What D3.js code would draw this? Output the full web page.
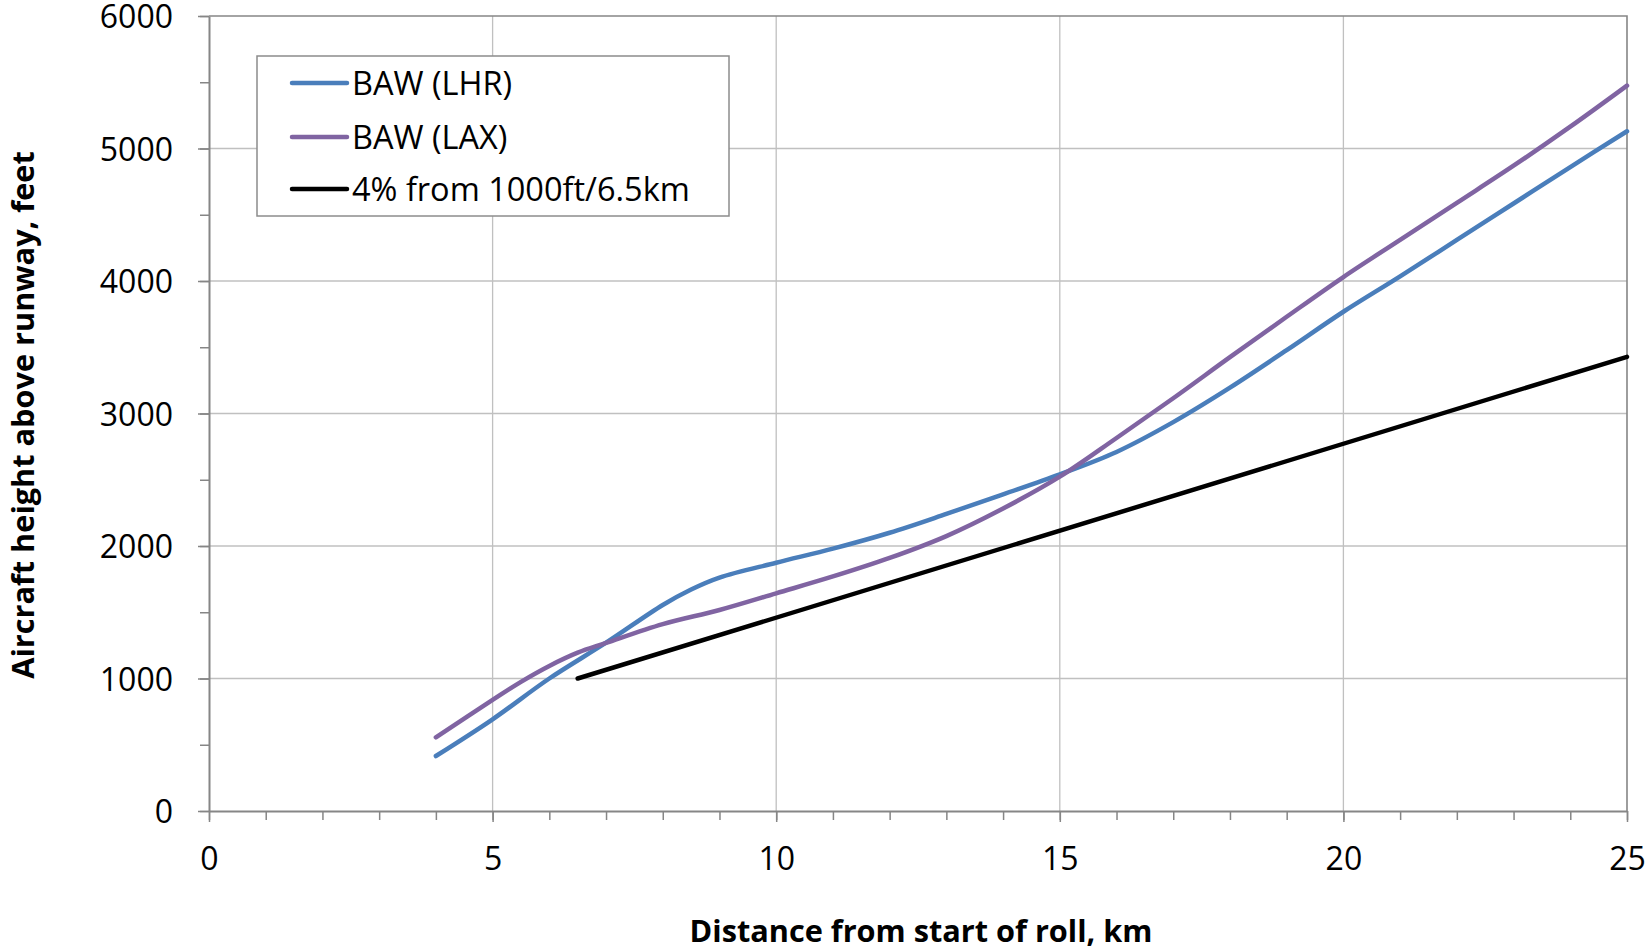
<!DOCTYPE html>
<html>
<head>
<meta charset="utf-8">
<script src="https://cdn.jsdelivr.net/npm/d3@7/dist/d3.min.js"></script>
<style>
  html, body { margin: 0; padding: 0; background: #fff; }
  svg { display: block; }
  text { font-family: "Open Sans", Lato, sans-serif; fill: #000; }
</style>
</head>
<body>
<svg id="chart" width="1652" height="950"></svg>
<script>
// ---- data ----
const seriesNames = ["BAW (LHR)", "BAW (LAX)", "4% from 1000ft/6.5km"];
const lhrKm  = [4, 5, 6, 7, 8, 8.5, 9, 10, 11, 12, 13, 14, 15, 16, 17, 18, 19, 20, 21, 22, 23, 24, 25];
const lhrFt  = [415, 692, 1000, 1270, 1555, 1672, 1762, 1874, 1980, 2100, 2242, 2390, 2541, 2710, 2935, 3195, 3478, 3768, 4035, 4310, 4585, 4860, 5130];
const laxKm  = [4, 5, 5.5, 6, 6.5, 7, 8, 9, 10, 11, 12, 13, 14, 15, 16, 17, 18, 19, 20, 21, 22, 23, 24, 25];
const laxFt  = [556, 838, 975, 1095, 1195, 1268, 1410, 1517, 1643, 1770, 1910, 2075, 2283, 2523, 2815, 3115, 3425, 3730, 4030, 4310, 4590, 4870, 5165, 5475];
const refKm  = [6.5, 25];
const refFt  = [1000, 3428];
const xTicks = [0, 5, 10, 15, 20, 25];
const yTicks = [0, 1000, 2000, 3000, 4000, 5000, 6000];
const xTitle = "Distance from start of roll, km";
const yTitle = "Aircraft height above runway, feet";
const colors = ["#4a7ebb", "#8064a2", "#000000"];

// ---- layout ----
const svg = d3.select("#chart");
const L = 209, T = 16, R = 1627, B = 811;
const x = d3.scaleLinear().domain([0, 25]).range([L, R]);
const y = d3.scaleLinear().domain([0, 6000]).range([B, T]);
const axisCol = "#868686", gridCol = "#c0c0c0";
const FONT = "'Open Sans', Lato, sans-serif";

// gridlines
svg.append("g").selectAll("line").data(xTicks.slice(1, -1)).join("line")
  .attr("x1", d => x(d)).attr("x2", d => x(d)).attr("y1", T).attr("y2", B)
  .attr("stroke", gridCol).attr("stroke-width", 1.3);
svg.append("g").selectAll("line").data(yTicks.slice(1, -1)).join("line")
  .attr("y1", d => y(d)).attr("y2", d => y(d)).attr("x1", L).attr("x2", R)
  .attr("stroke", gridCol).attr("stroke-width", 1.3);

// plot border top/right
svg.append("path").attr("d", `M${L},${T}H${R}V${B}`).attr("fill", "none")
  .attr("stroke", axisCol).attr("stroke-width", 1.6);

// minor ticks
const xMinor = d3.axisBottom(x).tickValues(d3.range(0, 26, 1)).tickSize(9).tickFormat("");
const yMinor = d3.axisLeft(y).tickValues(d3.range(0, 6001, 500)).tickSize(9).tickFormat("");
const gxm = svg.append("g").attr("transform", `translate(0,${B})`).call(xMinor);
const gym = svg.append("g").attr("transform", `translate(${L},0)`).call(yMinor);
[gxm, gym].forEach(g => {
  g.select(".domain").remove();
  g.selectAll("line").attr("stroke", axisCol).attr("stroke-width", 1.5);
});

// major axes
const xAxis = d3.axisBottom(x).tickValues(xTicks).tickFormat(d3.format("d")).tickSize(11).tickSizeOuter(0).tickPadding(26);
const yAxis = d3.axisLeft(y).tickValues(yTicks).tickFormat(d3.format("d")).tickSize(11).tickSizeOuter(0).tickPadding(25);
const gx = svg.append("g").attr("transform", `translate(0,${B})`).call(xAxis);
const gy = svg.append("g").attr("transform", `translate(${L},0)`).call(yAxis);
[gx, gy].forEach(g => {
  g.select(".domain").attr("stroke", axisCol).attr("stroke-width", 2);
  g.selectAll(".tick line").attr("stroke", axisCol).attr("stroke-width", 1.5);
  g.selectAll("text").attr("font-family", FONT).attr("font-size", 32).attr("fill", "#000");
});
gy.selectAll("text").attr("dy", "0.36em");
gx.selectAll("text").attr("dy", "0.7em");

// lines
const line = d3.line().x(d => x(d[0])).y(d => y(d[1])).curve(d3.curveCatmullRom.alpha(0.5));
const series = [
  d3.zip(lhrKm, lhrFt),
  d3.zip(laxKm, laxFt),
  d3.zip(refKm, refFt)
];
const order = [2, 0, 1];
order.forEach(i => {
  svg.append("path").datum(series[i]).attr("d", line)
    .attr("fill", "none").attr("stroke", colors[i]).attr("stroke-width", 4.5)
    .attr("stroke-linecap", "round").attr("stroke-linejoin", "round");
});

// legend
const lg = svg.append("g");
lg.append("rect").attr("x", 257).attr("y", 56).attr("width", 472).attr("height", 160)
  .attr("fill", "#fff").attr("stroke", "#8c8c8c").attr("stroke-width", 1.5);
const rowY = [83, 137, 189];
seriesNames.forEach((n, i) => {
  lg.append("line").attr("x1", 292).attr("x2", 347).attr("y1", rowY[i]).attr("y2", rowY[i])
    .attr("stroke", colors[i]).attr("stroke-width", 4.5).attr("stroke-linecap", "round");
  lg.append("text").attr("x", 352).attr("y", rowY[i]).attr("dy", "0.36em")
    .attr("font-family", FONT).attr("font-size", 32.5).text(n);
});

// axis titles
svg.append("text").attr("x", 921).attr("y", 931).attr("dy", "0.36em")
  .attr("text-anchor", "middle").attr("font-weight", "bold").attr("font-size", 30.7)
  .attr("font-family", FONT).text(xTitle);
svg.append("text").attr("transform", "translate(23,415) rotate(-90)").attr("dy", "0.36em")
  .attr("text-anchor", "middle").attr("font-weight", "bold").attr("font-size", 30.7)
  .attr("font-family", FONT).text(yTitle);
</script>
</body>
</html>
